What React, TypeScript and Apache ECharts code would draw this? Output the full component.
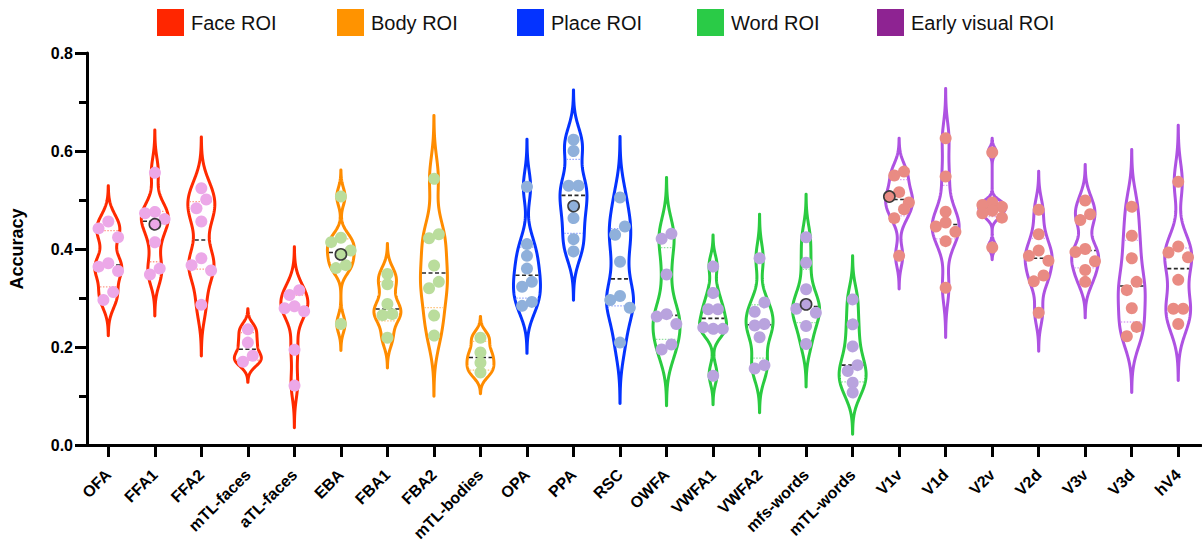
import React, { useEffect, useRef } from "react";
import * as echarts from "echarts";

// ---------- data ----------
const ROI_NAMES = [
  "OFA", "FFA1", "FFA2", "mTL-faces", "aTL-faces",
  "EBA", "FBA1", "FBA2", "mTL-bodies",
  "OPA", "PPA", "RSC",
  "OWFA", "VWFA1", "VWFA2", "mfs-words", "mTL-words",
  "V1v", "V1d", "V2v", "V2d", "V3v", "V3d", "hV4",
];
// ROI family of each category (index into GROUP_NAMES)
const ROI_GROUP = [0, 0, 0, 0, 0, 1, 1, 1, 1, 2, 2, 2, 3, 3, 3, 3, 3, 4, 4, 4, 4, 4, 4, 4];
const GROUP_NAMES = ["Face ROI", "Body ROI", "Place ROI", "Word ROI", "Early visual ROI"];

// per-participant accuracy in each ROI
const OFA = [0.456, 0.442, 0.424, 0.364, 0.371, 0.355, 0.312, 0.296];
const FFA1 = [0.558, 0.473, 0.478, 0.461, 0.452, 0.416, 0.348, 0.36];
const FFA2 = [0.524, 0.501, 0.483, 0.456, 0.367, 0.381, 0.356, 0.286];
const mTL_faces = [0.236, 0.209, 0.182, 0.17];
const aTL_faces = [0.316, 0.306, 0.279, 0.286, 0.273, 0.197, 0.124];
const EBA = [0.507, 0.414, 0.423, 0.397, 0.389, 0.361, 0.367, 0.247];
const FBA1 = [0.349, 0.328, 0.288, 0.265, 0.267, 0.219];
const FBA2 = [0.546, 0.43, 0.422, 0.369, 0.32, 0.333, 0.267, 0.226];
const mTL_bodies = [0.219, 0.189, 0.168, 0.148];
const OPA = [0.527, 0.41, 0.386, 0.36, 0.323, 0.333, 0.284, 0.292];
const PPA = [0.624, 0.601, 0.529, 0.529, 0.49, 0.464, 0.421, 0.396];
const RSC = [0.505, 0.446, 0.429, 0.374, 0.296, 0.304, 0.28, 0.209];
const OWFA = [0.421, 0.431, 0.348, 0.262, 0.267, 0.247, 0.205, 0.195];
const VWFA1 = [0.367, 0.313, 0.277, 0.277, 0.24, 0.237, 0.24, 0.144];
const VWFA2 = [0.381, 0.291, 0.272, 0.247, 0.244, 0.22, 0.163, 0.156];
const mfs_words = [0.424, 0.372, 0.318, 0.287, 0.278, 0.27, 0.243, 0.206];
const mTL_words = [0.299, 0.248, 0.203, 0.163, 0.151, 0.129, 0.109];
const V1v = [0.558, 0.55, 0.516, 0.507, 0.495, 0.481, 0.463, 0.386];
const V1d = [0.626, 0.548, 0.476, 0.454, 0.446, 0.435, 0.416, 0.321];
const V2v = [0.599, 0.497, 0.49, 0.486, 0.48, 0.473, 0.464, 0.405];
const V2d = [0.48, 0.43, 0.397, 0.386, 0.376, 0.346, 0.334, 0.27];
const V3v = [0.499, 0.471, 0.459, 0.4, 0.394, 0.375, 0.357, 0.333];
const V3d = [0.488, 0.429, 0.383, 0.333, 0.316, 0.281, 0.241, 0.222];
const hV4 = [0.537, 0.405, 0.393, 0.383, 0.337, 0.278, 0.278, 0.247];

const ROI_VALUES = [
  OFA, FFA1, FFA2, mTL_faces, aTL_faces,
  EBA, FBA1, FBA2, mTL_bodies,
  OPA, PPA, RSC,
  OWFA, VWFA1, VWFA2, mfs_words, mTL_words,
  V1v, V1d, V2v, V2d, V3v, V3d, hV4,
];
// highlighted participant value (index into that ROI's array), -1 = none
const HIGHLIGHT_INDEX = [-1, 4, -1, -1, -1, 4, -1, -1, -1, -1, 4, -1, -1, -1, -1, 3, -1, 3, -1, -1, -1, -1, -1, -1];

const Y_MIN = 0;
const Y_MAX = 0.8;
const Y_STEP = 0.2;

// ---------- styles ----------
const FONT = "'Liberation Sans', Arial, Helvetica, sans-serif";
const LEGEND_COLORS = ["#ff2600", "#ff9300", "#0433ff", "#2acb47", "#8e2392"];
const VIOLIN_COLORS = ["#ff2a00", "#ff8c00", "#0433ff", "#2acb40", "#ae52e2"];
const POINT_COLORS = ["#eca8e8", "#badd9c", "#8fb0db", "#b9a3de", "#e98b83"];
const QUARTILE_COLORS = ["#ff9c8c", "#ffc27a", "#93a6ff", "#93e0a0", "#dba6f2"];

function quantile(sorted: number[], p: number) {
  const n = sorted.length;
  const pos = (n + 1) * p;
  const lo = Math.floor(pos);
  const frac = pos - lo;
  if (lo < 1) return sorted[0];
  if (lo >= n) return sorted[n - 1];
  return sorted[lo - 1] + frac * (sorted[lo] - sorted[lo - 1]);
}

function renderViolin(params: any, api: any) {
  const i = api.value(0) as number;
  const vals = ROI_VALUES[i];
  const g = ROI_GROUP[i];
  const n = vals.length;
  const sorted = [...vals].sort((a, b) => a - b);
  const mean = vals.reduce((s, v) => s + v, 0) / n;
  const sd = Math.sqrt(vals.reduce((s, v) => s + (v - mean) * (v - mean), 0) / (n - 1));
  const q1 = quantile(sorted, 0.25);
  const med = quantile(sorted, 0.5);
  const q3 = quantile(sorted, 0.75);
  const A = Math.min(sd, (q3 - q1) / 1.34);
  const h = 0.63 * A * Math.pow(n, -0.2);
  const lo = sorted[0] - 3 * h;
  const hi = sorted[n - 1] + 3 * h;
  const dens = (y: number) => vals.reduce((s, v) => s + Math.exp(-0.5 * ((y - v) / h) ** 2), 0);

  const band = api.size([1, 0])[0];
  const W = band * 0.29;
  const cx = api.coord([i, 0])[0];
  const N = 160;
  const ys: number[] = [];
  const ds: number[] = [];
  let maxD = 0;
  for (let k = 0; k <= N; k++) {
    const y = lo + ((hi - lo) * k) / N;
    const d = dens(y);
    ys.push(y);
    ds.push(d);
    if (d > maxD) maxD = d;
  }
  const right: number[][] = [];
  const left: number[][] = [];
  for (let k = 0; k <= N; k++) {
    const py = api.coord([i, ys[k]])[1];
    const w = (W * ds[k]) / maxD;
    right.push([cx + w, py]);
    left.push([cx - w, py]);
  }
  const outline = right.concat(left.reverse());
  const widthAt = (y: number) => (W * dens(y)) / maxD;

  const children: any[] = [];
  children.push({
    type: "polygon",
    shape: { points: outline },
    style: { fill: "none", stroke: VIOLIN_COLORS[g], lineWidth: 3, lineJoin: "round" },
  });
  const hLine = (y: number, stroke: string, dash: number[], lw: number) => {
    const py = api.coord([i, y])[1];
    const w = Math.max(widthAt(y) - 1.5, 0);
    return {
      type: "line",
      shape: { x1: cx - w, y1: py, x2: cx + w, y2: py },
      style: { stroke, lineWidth: lw, lineDash: dash },
    };
  };
  children.push(hLine(q1, QUARTILE_COLORS[g], [1.5, 1.5], 1.3));
  children.push(hLine(q3, QUARTILE_COLORS[g], [1.5, 1.5], 1.3));
  children.push(hLine(med, "#2a2a2a", [4, 2.5], 1.6));

  // swarm: rows of close points, up to 3 per row
  const dStep = band * 0.21;
  const order = vals.map((v, idx) => idx).sort((a, b) => vals[b] - vals[a]);
  const rows: number[][] = [];
  let prevPy = -1e9;
  for (const idx of order) {
    const py = api.coord([i, vals[idx]])[1];
    const cur = rows[rows.length - 1];
    if (!cur || cur.length >= 3 || py - prevPy >= dStep) rows.push([idx]);
    else cur.push(idx);
    prevPy = py;
  }
  const offsets: number[] = new Array(n).fill(0);
  for (const row of rows) {
    const pattern = row.length === 1 ? [0] : row.length === 2 ? [0.5, -0.5] : [0, -1, 1];
    row.forEach((idx, k) => (offsets[idx] = pattern[k] * dStep));
  }
  const hiIdx = HIGHLIGHT_INDEX[i];
  vals.forEach((v, idx) => {
    if (idx === hiIdx) return;
    const p = api.coord([i, v]);
    children.push({
      type: "circle",
      shape: { cx: p[0] + offsets[idx], cy: p[1], r: 6 },
      style: { fill: POINT_COLORS[g] },
    });
  });
  if (hiIdx >= 0) {
    const p = api.coord([i, vals[hiIdx]]);
    children.push({
      type: "circle",
      shape: { cx: p[0] + offsets[hiIdx], cy: p[1], r: 5.6 },
      style: { fill: POINT_COLORS[g], stroke: "#3a3a3a", lineWidth: 1.6 },
    });
  }
  return { type: "group", children };
}

export default function App() {
  const ref = useRef<HTMLDivElement>(null);
  useEffect(() => {
    if (!ref.current) return;
    const chart = echarts.init(ref.current, undefined, { renderer: "svg" });
    const legend: any[] = [];
    GROUP_NAMES.forEach((name, k) => {
      const x0 = 157 + k * 180;
      legend.push({ type: "rect", left: x0, top: 9, shape: { width: 27, height: 27 }, style: { fill: LEGEND_COLORS[k] } });
      legend.push({
        type: "text",
        x: x0 + 34,
        y: 23,
        style: { text: name, fill: "#111", font: `20px ${FONT}`, verticalAlign: "middle", align: "left" },
      });
    });
    const option: any = {
      animation: false,
      backgroundColor: "#ffffff",
      textStyle: { fontFamily: FONT },
      grid: [
        { left: 79, right: 1, top: 53, bottom: 101 },
        { left: 85.04, right: 0.5, top: 53, bottom: 101 },
      ],
      xAxis: [
        {
          type: "value",
          gridIndex: 0,
          min: 0,
          max: 1,
          axisLine: { show: true, onZero: false, lineStyle: { color: "#000", width: 3 } },
          axisTick: { show: false },
          axisLabel: { show: false },
          splitLine: { show: false },
        },
        {
          type: "category",
          gridIndex: 1,
          data: ROI_NAMES,
          boundaryGap: true,
          axisLine: { show: false },
          axisTick: { show: true, alignWithLabel: true, length: 12, lineStyle: { color: "#000", width: 3 } },
          axisLabel: {
            interval: 0,
            rotate: 45,
            margin: 27,
            fontSize: 16,
            fontWeight: "bold",
            color: "#000",
            fontFamily: FONT,
          },
          splitLine: { show: false },
        },
      ],
      yAxis: [
        {
          type: "value",
          gridIndex: 0,
          min: Y_MIN,
          max: Y_MAX,
          interval: Y_STEP,
          axisLine: { show: true, lineStyle: { color: "#000", width: 3 } },
          axisTick: { show: true, length: 12, lineStyle: { color: "#000", width: 3 } },
          minorTick: { show: true, splitNumber: 2, length: 8, lineStyle: { color: "#000", width: 3 } },
          axisLabel: {
            formatter: (v: number) => v.toFixed(1),
            margin: 14,
            fontSize: 16,
            fontWeight: "bold",
            color: "#000",
            fontFamily: FONT,
          },
          splitLine: { show: false },
          minorSplitLine: { show: false },
          name: "Accuracy",
          nameLocation: "middle",
          nameGap: 61,
          nameRotate: 90,
          nameTextStyle: { fontSize: 18, fontWeight: "bold", color: "#000", fontFamily: FONT },
        },
        { type: "value", gridIndex: 1, min: Y_MIN, max: Y_MAX, show: false },
      ],
      series: [
        {
          type: "custom",
          xAxisIndex: 1,
          yAxisIndex: 1,
          clip: false,
          data: ROI_NAMES.map((_, i) => [i]),
          encode: { x: 0 },
          renderItem: renderViolin,
        },
      ],
      graphic: legend,
    };
    chart.setOption(option);
    return () => chart.dispose();
  }, []);
  return <div ref={ref} style={{ position: "absolute", left: 0, top: 0, width: 1202, height: 546 }} />;
}
